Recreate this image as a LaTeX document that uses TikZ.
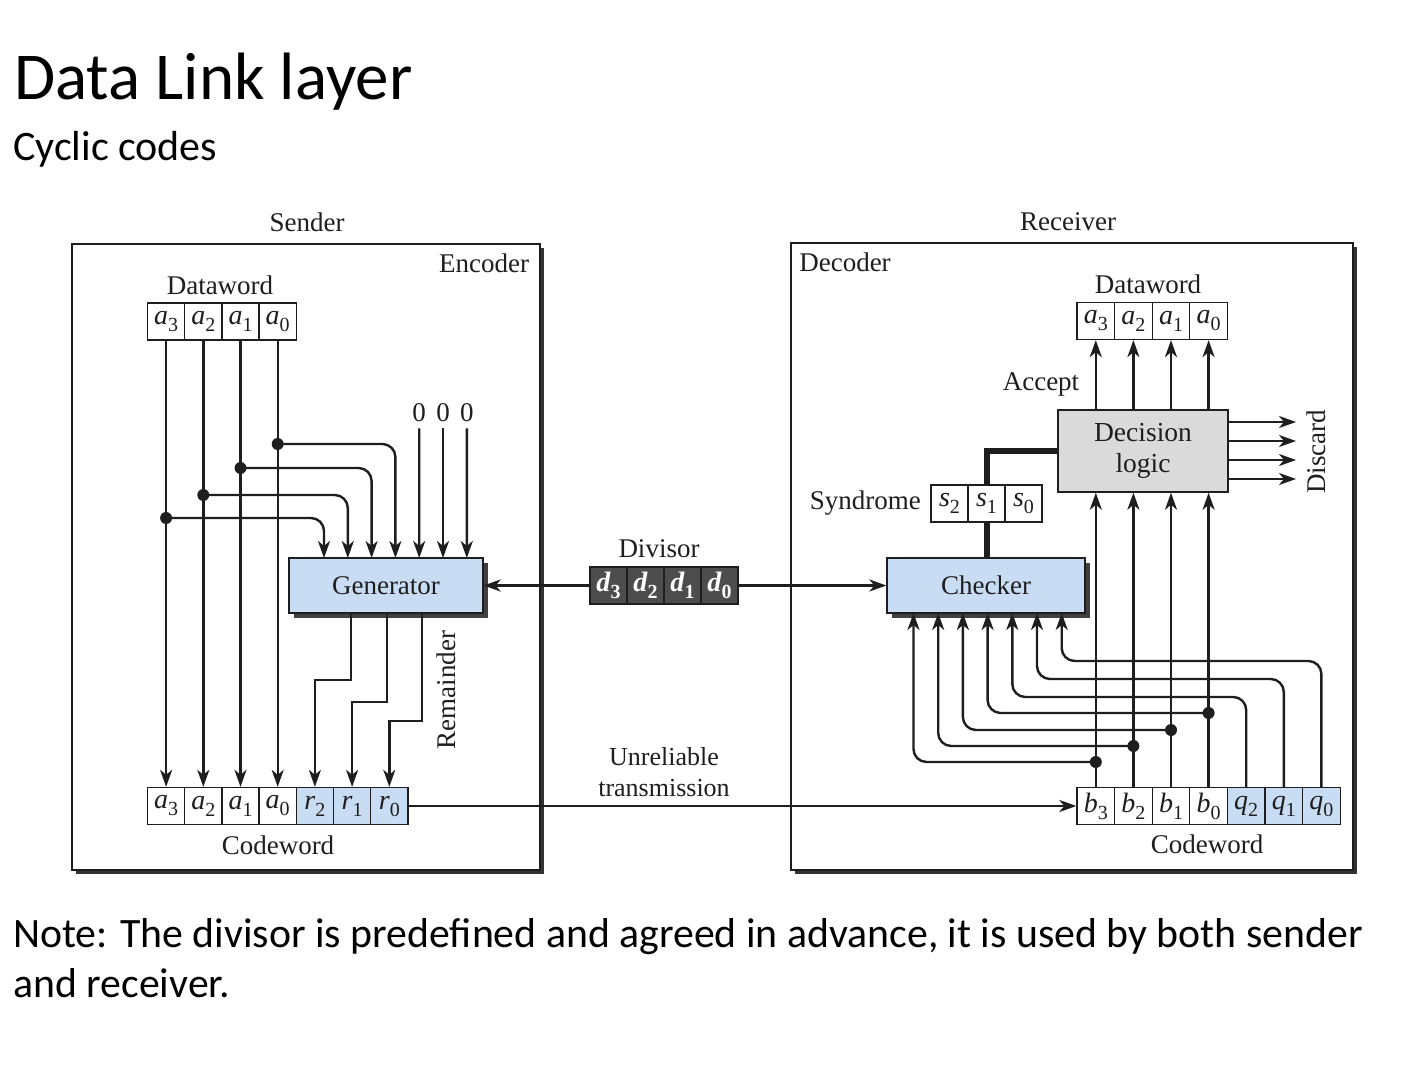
\documentclass[tikz,border=0pt]{standalone}
\usepackage{fontspec}
\setmainfont{Liberation Serif}
\newfontfamily\calib{Carlito}
\usetikzlibrary{arrows.meta,shadows}
\definecolor{cblue}{HTML}{C8DDF4}
\definecolor{dgray}{HTML}{4D4D4D}
\definecolor{lgray}{HTML}{DADADA}
\definecolor{ink}{HTML}{1E1E1E}
\newcommand\cv[2]{\textit{#1}\raisebox{-0.25em}{\fontsize{20}{20}\selectfont #2}}
\begin{document}
\begin{tikzpicture}[x=1pt,y=-1pt,
  wire/.style={line width=2.4pt, draw=ink},
  arr/.style={wire, -{Stealth[length=17pt,width=12pt,inset=5pt]}},
  lab/.style={font=\fontsize{27}{29}\selectfont, text=ink, inner sep=0pt},
  cell/.style={draw=ink, line width=1.3pt, inner sep=0pt, minimum height=37pt,
    font=\fontsize{28}{28}\selectfont, text=ink},
  blk/.style={draw=ink, line width=1.3pt, fill=cblue, minimum width=194pt, minimum height=55pt,
    font=\fontsize{27}{29}\selectfont, text=ink,
    drop shadow={shadow xshift=5pt, shadow yshift=-5pt, fill=black!75, opacity=1}},
  dot/.style={fill=ink}
]
\useasboundingbox (0,0) rectangle (1409,1067);

% titles
\node[anchor=base west, inner sep=0pt, font=\calib\fontsize{67}{72}\selectfont] (title) at (14,100) {Data Link layer};
\node[anchor=base west, inner sep=0pt, font=\calib\fontsize{42}{46}\selectfont] (sub) at (13,161) {Cyclic codes};
\node[anchor=base west, inner sep=0pt, font=\calib\fontsize{41.8}{46}\selectfont] (note1) at (13,947) {Note: The divisor is predefined and agreed in advance, it is used by both sender};
\node[anchor=base west, inner sep=0pt, font=\calib\fontsize{41.8}{46}\selectfont] (note2) at (13,997) {and receiver.};

% outer boxes
\fill[black!80] (76,248) rectangle (544,874);
\draw[fill=white, line width=1.3pt, draw=ink] (72,244) rectangle (540,870);
\fill[black!80] (795,247) rectangle (1357,874);
\draw[fill=white, line width=1.3pt, draw=ink] (791,243) rectangle (1353,870);

\node[lab] (sender) at (307,222) {Sender};
\node[lab] (receiver) at (1068,222) {Receiver};
\node[lab] (encoder) at (484,263) {Encoder};
\node[lab] (decoder) at (845,262) {Decoder};

% ---------- Sender ----------
\node[lab] (sdwl) at (220,285) {Dataword};
\foreach \n [count=\i from 0] in {3,2,1,0}
  \node[cell, minimum width=37.2pt] (sdw-a\n) at ({147.5+37.2*(\i+0.5)},321.5) {\cv{a}{\n}};
\foreach \l/\s/\f [count=\i from 0] in {a/3/white,a/2/white,a/1/white,a/0/white,r/2/cblue,r/1/cblue,r/0/cblue}
  \node[cell, minimum width=37.2pt, fill=\f] (scw-\l\s) at ({147.5+37.2*(\i+0.5)},806) {\cv{\l}{\s}};
\node[lab] (scwl) at (278,845) {Codeword};

\node[blk] (gen) at (386,585.5) {Generator};

\foreach \i in {1,...,7}
  \coordinate (gi\i) at ({324+23.8*(\i-1)},558);

% straight data lines
\foreach \n in {3,2,1,0}
  \draw[arr] (sdw-a\n.south) -- (scw-a\n.north);

% taps
\coordinate (j3) at (166.1,518);
\coordinate (j2) at (203.3,495);
\coordinate (j1) at (240.5,468);
\coordinate (j0) at (277.7,444);
\draw[arr, rounded corners=13pt] (j3) -| (gi1);
\draw[arr, rounded corners=13pt] (j2) -| (gi2);
\draw[arr, rounded corners=13pt] (j1) -| (gi3);
\draw[arr, rounded corners=13pt] (j0) -| (gi4);
\foreach \j in {j3,j2,j1,j0} \fill[dot] (\j) circle (6pt);

% zeros
\node[lab] (z1) at (419.2,413) {0};
\node[lab] (z2) at (443,413) {0};
\node[lab] (z3) at (466.8,413) {0};
\draw[arr] (z1.south) ++(0,6) -- (gi5);
\draw[arr] (z2.south) ++(0,6) -- (gi6);
\draw[arr] (z3.south) ++(0,6) -- (gi7);

% remainder
\coordinate (ro2) at (351,613);
\coordinate (ro1) at (387,613);
\coordinate (ro0) at (422,613);
\draw[arr] (ro2) -- ++(0,67) -| (scw-r2.north);
\draw[arr] (ro1) -- ++(0,89) -| (scw-r1.north);
\draw[arr] (ro0) -- ++(0,108) -| (scw-r0.north);
\node[lab, rotate=90] (rem) at (446,690) {Remainder};

% ---------- Divisor ----------
\node[lab] (divl) at (659,549) {Divisor};
\foreach \n [count=\i from 0] in {3,2,1,0}
  \node[cell, minimum width=37pt, fill=dgray, text=white] (dv-\n) at ({590+37*(\i+0.5)},585.5) {\textbf{\cv{d}{\n}}};

% ---------- Receiver ----------
\node[lab] (rdwl) at (1148,284) {Dataword};
\foreach \n [count=\i from 0] in {3,2,1,0}
  \node[cell, minimum width=37.6pt] (rdw-a\n) at ({1077+37.6*(\i+0.5)},321) {\cv{a}{\n}};
\foreach \l/\s/\f [count=\i from 0] in {b/3/white,b/2/white,b/1/white,b/0/white,q/2/cblue,q/1/cblue,q/0/cblue}
  \node[cell, minimum width=37.6pt, fill=\f] (rcw-\l\s) at ({1077+37.6*(\i+0.5)},806) {\cv{\l}{\s}};
\node[lab] (rcwl) at (1207,844) {Codeword};

\node[draw=ink, line width=1.5pt, fill=lgray, minimum width=170pt, minimum height=82pt,
  align=center, font=\fontsize{27.5}{31}\selectfont, text=ink] (dec) at (1143,451) {Decision\\logic};
\node[lab] (acc) at (1041,384) {Accept};

\node[blk, minimum width=198pt] (chk) at (986,585.5) {Checker};

\node[lab, anchor=east] (synl) at (921,503) {Syndrome};
\foreach \n [count=\i from 0] in {2,1,0}
  \node[cell, minimum width=37pt] (syn-\n) at ({931+37*(\i+0.5)},503.5) {\cv{s}{\n}};

% divisor arrows
\draw[arr] (dv-3.west) -- (gen.east);
\draw[arr] (dv-0.east) -- (chk.west);

% transmission
\draw[arr] (scw-r0.east) -- (rcw-b3.west);
\node[lab, align=center, font=\fontsize{26}{31}\selectfont] (unrel) at (664,772) {Unreliable\\transmission};

% syndrome thick lines
\draw[line width=6pt, draw=ink] (chk.north -| syn-1) -- (syn-1.south);
\draw[line width=6pt, draw=ink] (syn-1.north) |- (dec.west);

% accept arrows
\foreach \n in {3,2,1,0}
  \draw[arr] (rdw-a\n.south |- dec.north) -- (rdw-a\n.south);
% data to decision
\foreach \n in {3,2,1,0}
  \draw[arr] (rcw-b\n.north) -- (rcw-b\n.north |- dec.south);

% discard
\foreach \y [count=\i] in {422,441,460,479} {
  \coordinate (ds\i) at (1228,\y);
  \coordinate (de\i) at (1296,\y);
  \draw[arr] (ds\i) -- (de\i);
}
\node[lab, rotate=90] (disc) at (1316,452) {Discard};

% checker inputs
\foreach \i in {1,...,7}
  \coordinate (ci\i) at ({913.5+24.7*(\i-1)},613);
\coordinate (k3) at (1095.8,762);
\coordinate (k2) at (1133.4,746);
\coordinate (k1) at (1171.0,730);
\coordinate (k0) at (1208.6,713);
\draw[arr, rounded corners=13pt] (k3) -| (ci1);
\draw[arr, rounded corners=13pt] (k2) -| (ci2);
\draw[arr, rounded corners=13pt] (k1) -| (ci3);
\draw[arr, rounded corners=13pt] (k0) -| (ci4);
\coordinate (m2) at (1012.3,697);
\coordinate (m1) at (1037,679);
\coordinate (m0) at (1061.7,661);
\draw[arr, rounded corners=13pt] (rcw-q2.north) |- (m2) -- (ci5);
\draw[arr, rounded corners=13pt] (rcw-q1.north) |- (m1) -- (ci6);
\draw[arr, rounded corners=13pt] (rcw-q0.north) |- (m0) -- (ci7);
\foreach \k in {k3,k2,k1,k0} \fill[dot] (\k) circle (6pt);
\end{tikzpicture}
\end{document}
